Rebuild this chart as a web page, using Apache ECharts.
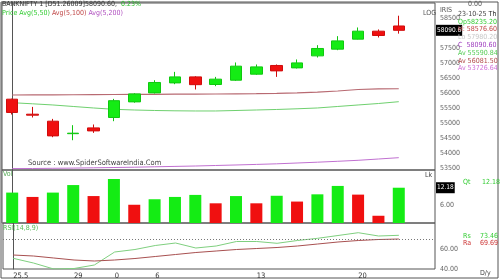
<!DOCTYPE html>
<html><head><meta charset="utf-8">
<script src="https://cdn.jsdelivr.net/npm/echarts@6/dist/echarts.min.js"></script>
<style>html,body{margin:0;padding:0;background:#fff}#c{width:500px;height:280px}</style>
</head><body><div id="c"></div>
<script>
// ---- data ----
const dateLabels = ['25.5','','','29','','0','','6','','','','','13','','','','','20','',''];
const opens  = [55798,55298,55065,54649,54842,55188,55708,56007,56340,56540,56287,56430,56630,56920,56840,57240,57463,57796,58062,58235.2];
const closes = [55355,55265,54576,54666,54742,55748,55974,56354,56540,56281,56464,56897,56873,56740,57006,57486,57739,58062,57919,58090.6];
const lows   = [55288,55188,54532,54432,54675,55065,55681,55988,56297,56121,56231,56407,56607,56540,56820,57186,57429,57786,57852,57980.2];
const highs  = [55814,55541,55142,54932,54955,55808,55998,56430,56707,56564,56540,57020,56953,56953,57120,57596,57896,58185,58119,58576.6];
const avg50  = [55681,55644,55605,55555,55505,55461,55438,55421,55411,55405,55405,55421,55438,55455,55478,55505,55555,55605,55654,55714];
const avg100 = [55937,55940,55943,55946,55950,55954,55957,55960,55964,55967,55971,55975,55980,55990,56005,56030,56070,56120,56140,56145];
const avg200 = [53487,53490,53497,53503,53513,53523,53533,53547,53560,53573,53590,53607,53626,53646,53673,53700,53730,53763,53806,53850];
const volume = [10.5,9.0,10.5,13.1,9.3,15.2,6.3,8.2,9.0,9.7,6.8,9.3,6.8,9.4,7.4,9.9,12.8,9.8,2.5,12.18];
const volDir = ['u','d','u','u','d','u','d','u','u','u','d','u','d','u','d','u','u','d','d','u'];
const rsi    = [50.7,46,40,40.5,44,57,59.5,63.5,66,61,63,67.5,67.5,65.7,68.5,70.7,73.5,76.3,73,73.7];
const rsiAvg = [54,53,51,49,48,49,50.5,52.5,54.5,56.5,58,59.5,60.5,61.5,63,65,67,68.5,69.5,70];
const rsiRef = 70;

const GREEN='#14ec14', RED='#f01010';
const FONT='"Liberation Sans Narrow","DejaVu Sans Condensed",sans-serif';
const idx = dateLabels.map((_, i) => i);
const xr = {min:-0.5, max:20.78, interval:0.5};

function txt(text, left, top, color, size, rich){
  return {text, left, top, padding:0, itemGap:0,
    textStyle:{fontFamily:FONT, fontSize:size||7, color:color||'#333', fontWeight:'normal', rich:rich||{}}};
}
const rs = (c)=>({fontFamily:FONT, fontSize:7, color:c});
const boxLabel = (t)=>({show:true, position:'end', distance:1, formatter:()=>t, backgroundColor:'#000', color:'#fff', fontSize:6.5, fontFamily:FONT, padding:[2,1], opacity:1});

const chart = echarts.init(document.getElementById('c'), null, {renderer:'canvas'});
const gridBase = {left:2, width:433, show:true, borderColor:'#555', borderWidth:1, backgroundColor:'transparent'};
const hiddenX = (g)=>Object.assign({type:'value', gridIndex:g, axisLine:{show:false}, axisTick:{show:false}, axisLabel:{show:false}, splitLine:{show:false}}, xr);

chart.setOption({
  animation:false,
  backgroundColor:'#fff',
  title:[
    txt('{a|BANKNIFTY 1 [D51.26009]58090.60,}  {b|0.23%}', 2, 1, '#333', 7, {a:rs('#333'), b:rs('#22bb22')}),
    txt('{g|Price Avg(5,50)} {r|Avg(5,100)} {p|Avg(5,200)}', 2, 10, '#333', 7, {g:rs('#33cc33'), r:rs('#c04848'), p:rs('#b050c0')}),
    txt('Source : www.SpiderSoftwareIndia.Com', 28, 159, '#444', 7.5),
    txt('LOG', 423, 10, '#555', 7),
    txt('IRIS', 440, 7, '#555', 7),
    txt('0.00', 468, 1, '#555', 7),
    txt('{k|23-10-25} {t|Th}\n{o|Op58235.20}\n{h|H: 58576.60}\n{l|Lo 57980.20}\n{c|C  58090.60}\n{a1|Av 55590.84}\n{a2|Av 56081.50}\n{a3|Av 53726.64}', 458, 10, '#333', 7,
      {k:{...rs('#444'), lineHeight:7.8}, t:{...rs('#222'), lineHeight:7.8}, o:{...rs('#33cc33'), lineHeight:7.8}, h:{...rs('#c04848'), lineHeight:7.8}, l:{...rs('#c8c8c8'), lineHeight:7.8},
       c:{...rs('#a040c0'), lineHeight:7.8}, a1:{...rs('#55cc55'), lineHeight:7.8}, a2:{...rs('#b04848'), lineHeight:7.8}, a3:{...rs('#d070d8'), lineHeight:7.8}}),
    txt('Vol', 3, 171, '#55aa55', 7),
    txt('Lk', 425, 172, '#444', 7),
    txt('Qt', 463, 179, '#33cc33', 7),
    txt('12.18', 482, 179, '#33cc33', 7),
    txt('RSI(14,8,9)', 3, 225, '#55bb55', 7),
    txt('Rs', 463, 233, '#33cc33', 7),
    txt('73.46', 480, 233, '#33cc33', 7),
    txt('Ra', 463, 240, '#cc3333', 7),
    txt('69.69', 480, 240, '#cc3333', 7),
    txt('D/y', 480, 270, '#444', 7)
  ],
  graphic:[{type:'rect', shape:{x:1, y:2, width:497, height:276}, style:{fill:'none', stroke:'#555', lineWidth:1}, silent:true}],
  grid:[
    Object.assign({top:3, height:167}, gridBase),
    Object.assign({top:170, height:53}, gridBase),
    Object.assign({top:223, height:46}, gridBase)
  ],
  xAxis:[
    hiddenX(0), hiddenX(1),
    Object.assign({type:'value', gridIndex:2, axisLine:{show:false}, axisTick:{show:false}, splitLine:{show:false},
      axisLabel:{show:true, align:'left', margin:3, fontSize:7.5, fontFamily:FONT, color:'#333',
        showMinLabel:true, showMaxLabel:true,
        formatter:(v)=> (Number.isInteger(v) && dateLabels[v]) ? dateLabels[v] : ''}}, xr)
  ],
  yAxis:[
    {type:'value', gridIndex:0, position:'right', min:53440, max:59000, interval:20, scale:true,
      axisLine:{show:true, lineStyle:{color:'#555'}}, axisTick:{show:false}, splitLine:{show:false},
      axisLabel:{margin:5, fontSize:7, fontFamily:FONT, color:'#666',
        formatter:(v)=> (v%500===0 && v!==58000 && v<58900) ? String(v) : ''}},
    {type:'value', gridIndex:1, position:'right', min:0, max:18.3, interval:6,
      axisLine:{show:true, lineStyle:{color:'#555'}}, axisTick:{show:false}, splitLine:{show:false},
      axisLabel:{margin:5, fontSize:7, fontFamily:FONT, color:'#666', formatter:(v)=> v===6 ? '6.00' : ''}},
    {type:'value', gridIndex:2, position:'right', min:40, max:86, interval:20,
      axisLine:{show:true, lineStyle:{color:'#555'}}, axisTick:{show:false}, splitLine:{show:false},
      axisLabel:{margin:5, fontSize:7, fontFamily:FONT, color:'#666', formatter:(v)=> (v===40||v===60) ? v.toFixed(2) : ''}}
  ],
  series:[
    {type:'candlestick', xAxisIndex:0, yAxisIndex:0, barWidth:12, z:3,
      encode:{x:0, y:[1,2,3,4]},
      data: idx.map(i=>[i, opens[i], closes[i], lows[i], highs[i]]),
      itemStyle:{color:GREEN, color0:RED, borderColor:'#10c810', borderColor0:'#d00c0c', borderWidth:1},
      markLine:{silent:true, symbol:'none', animation:false, lineStyle:{color:'rgba(0,0,0,0)', width:0},
        label:boxLabel('58090.6'), emphasis:{disabled:true},
        data:[{yAxis: closes[closes.length-1]}]}},
    {type:'line', xAxisIndex:0, yAxisIndex:0, showSymbol:false, data: idx.map(i=>[i, avg50[i]]), lineStyle:{color:'#6fd06f', width:1}},
    {type:'line', xAxisIndex:0, yAxisIndex:0, showSymbol:false, data: idx.map(i=>[i, avg100[i]]), lineStyle:{color:'#b86a72', width:1.2}},
    {type:'line', xAxisIndex:0, yAxisIndex:0, showSymbol:false, data: idx.map(i=>[i, avg200[i]]), lineStyle:{color:'#c070d0', width:1}},
    {type:'bar', xAxisIndex:1, yAxisIndex:1, barWidth:12,
      data: idx.map(i=>({value:[i, volume[i]], itemStyle:{color: volDir[i]==='u' ? GREEN : RED}})),
      markLine:{silent:true, symbol:'none', animation:false, lineStyle:{color:'rgba(0,0,0,0)', width:0},
        label:boxLabel('12.18'), emphasis:{disabled:true},
        data:[{yAxis: volume[volume.length-1]}]}},
    {type:'line', xAxisIndex:2, yAxisIndex:2, showSymbol:false, data: idx.map(i=>[i, rsi[i]]), lineStyle:{color:'#7fcf7f', width:1},
      markLine:{silent:true, symbol:'none', animation:false, label:{show:false},
        lineStyle:{color:'#777', type:[1,2], width:1}, data:[{yAxis: rsiRef}]}},
    {type:'line', xAxisIndex:2, yAxisIndex:2, showSymbol:false, data: idx.map(i=>[i, rsiAvg[i]]), lineStyle:{color:'#a85050', width:1}}
  ]
});
</script>
</body></html>
